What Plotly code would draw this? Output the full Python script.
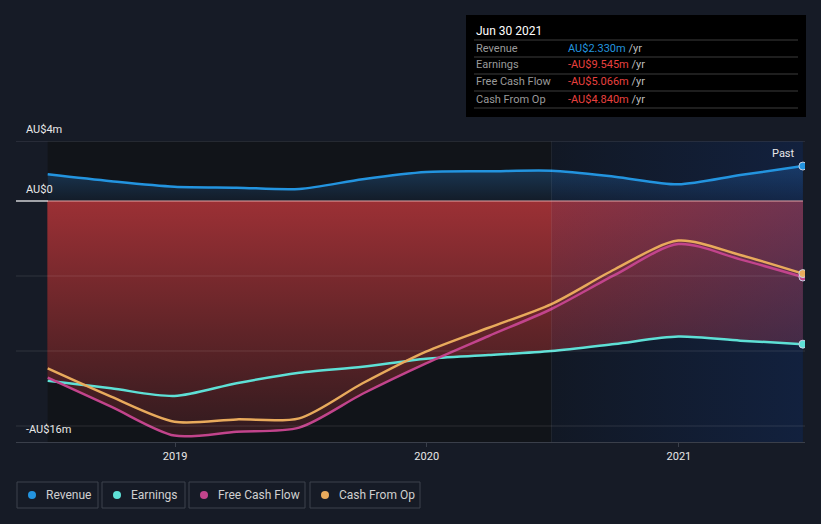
import plotly.graph_objects as go

# quarterly values, AU$ millions
dates = [
    "2018-06-30", "2018-09-30", "2018-12-31", "2019-03-31", "2019-06-30",
    "2019-09-30", "2019-12-31", "2020-03-31", "2020-06-30", "2020-09-30",
    "2020-12-31", "2021-03-31", "2021-06-30",
]
revenue = [1.78, 1.32, 0.95, 0.89, 0.80, 1.45, 1.93, 1.98, 2.02, 1.62, 1.11, 1.73, 2.330]
earnings = [-11.98, -12.49, -13.0, -12.15, -11.45, -11.05, -10.51, -10.27, -10.0, -9.53, -9.04, -9.31, -9.545]
free_cash_flow = [-11.78, -13.71, -15.64, -15.38, -15.11, -12.85, -10.82, -9.0, -7.20, -4.93, -2.87, -3.89, -5.066]
cash_from_op = [-11.16, -13.04, -14.71, -14.56, -14.49, -12.15, -10.04, -8.45, -6.87, -4.55, -2.64, -3.60, -4.840]

series_names = ["Revenue", "Earnings", "Free Cash Flow", "Cash From Op"]
series_colors = ["#2394df", "#5ee0d6", "#c2448c", "#e8aa5c"]
year_ticks = ["2019-01-01", "2020-01-01", "2021-01-01"]
year_labels = ["2019", "2020", "2021"]
past_start = "2020-06-30"
tooltip_date = "Jun 30 2021"

W, H = 821, 524
L, R, T, B = 16, 16, 141, 82
BG = "#161b26"
FONT = "Roboto, 'Open Sans', sans-serif"


def px_x(p):
    return (p - L) / (W - L - R)


def px_y(p):
    return (H - B - p) / (H - T - B)


fig = go.Figure()

# revenue area (blue gradient down to zero)
fig.add_trace(go.Scatter(
    x=dates, y=revenue, mode="lines", line=dict(width=0, shape="spline", smoothing=0.8),
    fill="tozeroy",
    fillgradient=dict(type="vertical", start=0, stop=2.4,
                      colorscale=[[0, "#131c28"], [1, "#1a3a59"]]),
    hoverinfo="skip", showlegend=False,
))

# negative areas: same opaque gradient, so overlaps read as one region
for vals in [earnings, free_cash_flow, cash_from_op]:
    fig.add_trace(go.Scatter(
        x=dates, y=vals, mode="lines", line=dict(width=0, shape="spline", smoothing=0.8),
        fill="tozeroy",
        fillgradient=dict(type="vertical", start=-16, stop=0,
                          colorscale=[[0, "#2e1a1e"], [0.5, "#652529"], [1, "#9c3035"]]),
        hoverinfo="skip", showlegend=False,
    ))

# "past" shaded window
fig.add_trace(go.Scatter(
    x=[past_start, dates[-1], dates[-1], past_start, past_start],
    y=[-16.067, -16.067, 4, 4, -16.067],
    mode="lines", line=dict(width=0), fill="toself",
    fillgradient=dict(type="horizontal",
                      colorscale=[[0, "rgba(20,60,140,0.10)"], [1, "rgba(20,60,140,0.32)"]]),
    hoverinfo="skip", showlegend=False,
))

all_series = [revenue, earnings, free_cash_flow, cash_from_op]
for vals, name, color in zip(all_series, series_names, series_colors):
    fig.add_trace(go.Scatter(
        x=dates, y=vals, mode="lines", name=name,
        line=dict(color=color, width=2.5, shape="spline", smoothing=0.8),
        hoverinfo="skip", showlegend=False,
    ))

for vals, color in zip(all_series, series_colors):
    fig.add_trace(go.Scatter(
        x=[dates[-1]], y=[vals[-1]], mode="markers",
        marker=dict(color=color, size=8, line=dict(color="#c8d0e0", width=1)),
        hoverinfo="skip", showlegend=False,
    ))

shapes = [
    # darker data background
    dict(type="rect", xref="x", yref="paper", x0=dates[0], x1=dates[-1], y0=0, y1=1,
         fillcolor="#111419", line_width=0, layer="below"),
    # past divider
    dict(type="line", xref="x", yref="paper", x0=past_start, x1=past_start, y0=0, y1=1,
         line=dict(color="rgba(255,255,255,0.07)", width=1), layer="above"),
    # top gridline
    dict(type="line", xref="paper", yref="y", x0=0, x1=1, y0=4, y1=4,
         line=dict(color="#3a3f4a", width=1), layer="above"),
    # zero line
    dict(type="line", xref="paper", yref="y", x0=0, x1=px_x(48), y0=0, y1=0,
         line=dict(color="#ffffff", width=1.2), layer="above"),
    dict(type="line", xref="x", yref="y", x0=dates[0], x1=dates[-1], y0=0, y1=0,
         line=dict(color="#e3a3a6", width=1.2), layer="above"),
]
for gv in [-5, -10, -15]:
    shapes.append(dict(type="line", xref="paper", yref="y", x0=0, x1=1, y0=gv, y1=gv,
                       line=dict(color="rgba(255,255,255,0.11)", width=1), layer="above"))

annotations = []
for txt, py in [("AU$4m", 129), ("AU$0", 189), ("-AU$16m", 429)]:
    annotations.append(dict(text=txt, xref="paper", yref="paper", x=px_x(24), y=px_y(py),
                            xanchor="left", yanchor="middle", showarrow=False,
                            font=dict(size=11, color="#e8e8e8", family=FONT)))
annotations.append(dict(text="Past", xref="paper", yref="paper", x=px_x(797), y=px_y(153),
                        xanchor="right", yanchor="middle", showarrow=False,
                        font=dict(size=11, color="#e8e8e8", family=FONT)))

# tooltip box
shapes.append(dict(type="rect", xref="paper", yref="paper", x0=px_x(466), x1=px_x(806),
                   y0=px_y(117), y1=px_y(15), fillcolor="#000000", line_width=0, layer="above"))
annotations.append(dict(text=tooltip_date, xref="paper", yref="paper", x=px_x(474), y=px_y(31),
                        xanchor="left", yanchor="middle", showarrow=False,
                        font=dict(size=12, color="#ffffff", family=FONT)))
for i, (name, vals) in enumerate(zip(series_names, all_series)):
    row_y = 48 + 17 * i
    shapes.append(dict(type="line", xref="paper", yref="paper", x0=px_x(474), x1=px_x(798),
                       y0=px_y(row_y - 8), y1=px_y(row_y - 8),
                       line=dict(color="#3c3c3c", width=1), layer="above"))
    v = vals[-1]
    val_txt = ("-" if v < 0 else "") + f"AU${abs(v):.3f}m"
    val_color = "#2394df" if v >= 0 else "#e8403f"
    annotations.append(dict(text=name, xref="paper", yref="paper", x=px_x(474), y=px_y(row_y),
                            xanchor="left", yanchor="middle", showarrow=False,
                            font=dict(size=11, color="#9a9a9a", family=FONT)))
    annotations.append(dict(text=f"<span style='color:{val_color}'>{val_txt}</span> /yr",
                            xref="paper", yref="paper", x=px_x(566), y=px_y(row_y),
                            xanchor="left", yanchor="middle", showarrow=False,
                            font=dict(size=11, color="#bdbdbd", family=FONT)))
shapes.append(dict(type="line", xref="paper", yref="paper", x0=px_x(474), x1=px_x(798),
                   y0=px_y(108), y1=px_y(108), line=dict(color="#3c3c3c", width=1), layer="above"))

# legend boxes
legend_boxes = [(17, 98), (102, 185), (189, 305), (310, 420)]
for (bx0, bx1), name, color in zip(legend_boxes, series_names, series_colors):
    shapes.append(dict(type="rect", xref="paper", yref="paper", x0=px_x(bx0), x1=px_x(bx1),
                       y0=px_y(508), y1=px_y(482), line=dict(color="#3d424d", width=1),
                       fillcolor="rgba(0,0,0,0)"))
    shapes.append(dict(type="circle", xref="paper", yref="paper",
                       x0=px_x(bx0 + 11), x1=px_x(bx0 + 19), y0=px_y(499), y1=px_y(491),
                       fillcolor=color, line_width=0))
    annotations.append(dict(text=name, xref="paper", yref="paper", x=px_x(bx0 + 27), y=px_y(495),
                            xanchor="left", yanchor="middle", showarrow=False,
                            font=dict(size=12, color="#d0d0d0", family=FONT)))

fig.update_layout(
    width=W, height=H,
    margin=dict(l=L, r=R, t=T, b=B),
    paper_bgcolor=BG, plot_bgcolor=BG,
    font=dict(family=FONT, color="#e8e8e8"),
    showlegend=False,
    shapes=shapes, annotations=annotations,
    xaxis=dict(
        range=["2018-05-15", "2021-07-03"], showgrid=False, zeroline=False,
        tickvals=year_ticks, ticktext=year_labels, ticks="outside", ticklen=4,
        tickcolor="#3a3f4a", showline=True, linecolor="#3a3f4a", linewidth=1,
        tickfont=dict(size=11, color="#e8e8e8", family=FONT),
    ),
    yaxis=dict(range=[-16.067, 4], showgrid=False, zeroline=False, showticklabels=False),
)

# drop the default page margin so the figure sits at the window origin
fig.write_html(
    "out.html",
    config={"displayModeBar": False},
    post_script="document.body.style.margin='0';document.body.style.background='%s';" % BG,
)
